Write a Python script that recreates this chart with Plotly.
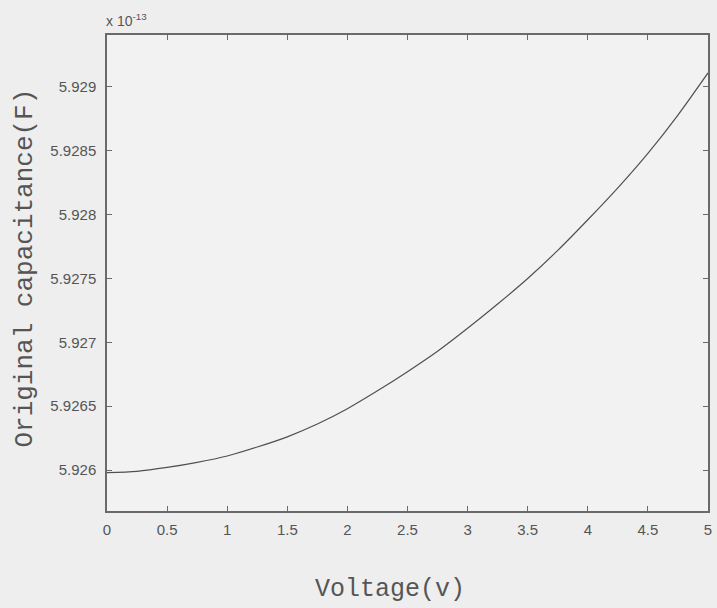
import plotly.graph_objects as go

# Capacitance vs. bias voltage (values in units of 1e-13 F)
voltage = [0.0, 0.25, 0.5, 0.75, 1.0, 1.25, 1.5, 1.75, 2.0, 2.25, 2.5,
           2.75, 3.0, 3.25, 3.5, 3.75, 4.0, 4.25, 4.5, 4.75, 5.0]
capacitance = [5.92598, 5.92599, 5.92602, 5.92606, 5.92611, 5.92618, 5.92626,
               5.92636, 5.92648, 5.92662, 5.92677, 5.92693, 5.92711, 5.92730,
               5.92750, 5.92772, 5.92796, 5.92821, 5.92848, 5.92878, 5.92911]

x_ticks = [0, 0.5, 1, 1.5, 2, 2.5, 3, 3.5, 4, 4.5, 5]
x_labels = ["0", "0.5", "1", "1.5", "2", "2.5", "3", "3.5", "4", "4.5", "5"]
y_ticks = [5.926, 5.9265, 5.927, 5.9275, 5.928, 5.9285, 5.929]
y_labels = ["5.926", "5.9265", "5.927", "5.9275", "5.928", "5.9285", "5.929"]

W, H = 717, 608
L, R, T, B = 107, 5, 35, 97
pw, ph = W - L - R, H - T - B

axis_col = "#6a6a6a"
text_col = "#555555"
tick_font = dict(family="Liberation Sans, Arial, sans-serif", size=15, color=text_col)
mono = "Liberation Mono, Courier New, monospace"

fig = go.Figure()
fig.add_trace(go.Scatter(
    x=voltage, y=capacitance, mode="lines",
    line=dict(color="#505050", width=1.2, shape="spline", smoothing=0.8),
    hoverinfo="skip", showlegend=False,
))

common = dict(
    showline=True, linecolor=axis_col, linewidth=1.5, mirror="ticks",
    ticks="inside", ticklen=5, tickwidth=1, tickcolor=axis_col,
    showgrid=False, zeroline=False, tickfont=tick_font,
)

fig.update_xaxes(range=[0, 5], tickvals=x_ticks, ticktext=x_labels,
                 ticklabelstandoff=4, **common)
fig.update_yaxes(range=[5.925679, 5.929407], tickvals=y_ticks, ticktext=y_labels,
                 ticklabelstandoff=6, **common)

def px_x(p):
    return (p - L) / pw

def px_y(p):
    return (H - B - p) / ph

annotations = [
    dict(text="Voltage(v)", x=px_x(392), y=px_y(589), xref="paper", yref="paper",
         showarrow=False, xanchor="center", yanchor="middle",
         font=dict(family=mono, size=25, color=text_col)),
    dict(text="Original capacitance(F)", x=px_x(24), y=px_y(268),
         xref="paper", yref="paper", textangle=-90,
         showarrow=False, xanchor="center", yanchor="middle",
         font=dict(family=mono, size=26, color=text_col)),
    dict(text="x 10<sup>-13</sup>", x=px_x(104), y=px_y(20),
         xref="paper", yref="paper",
         showarrow=False, xanchor="left", yanchor="middle",
         font=dict(family="Liberation Sans, Arial, sans-serif", size=14, color=text_col)),
]

fig.update_layout(
    width=W, height=H,
    margin=dict(l=L, r=R, t=T, b=B),
    paper_bgcolor="#eeeeee",
    plot_bgcolor="#f2f2f2",
    annotations=annotations,
)

fig.write_html("out.html")
